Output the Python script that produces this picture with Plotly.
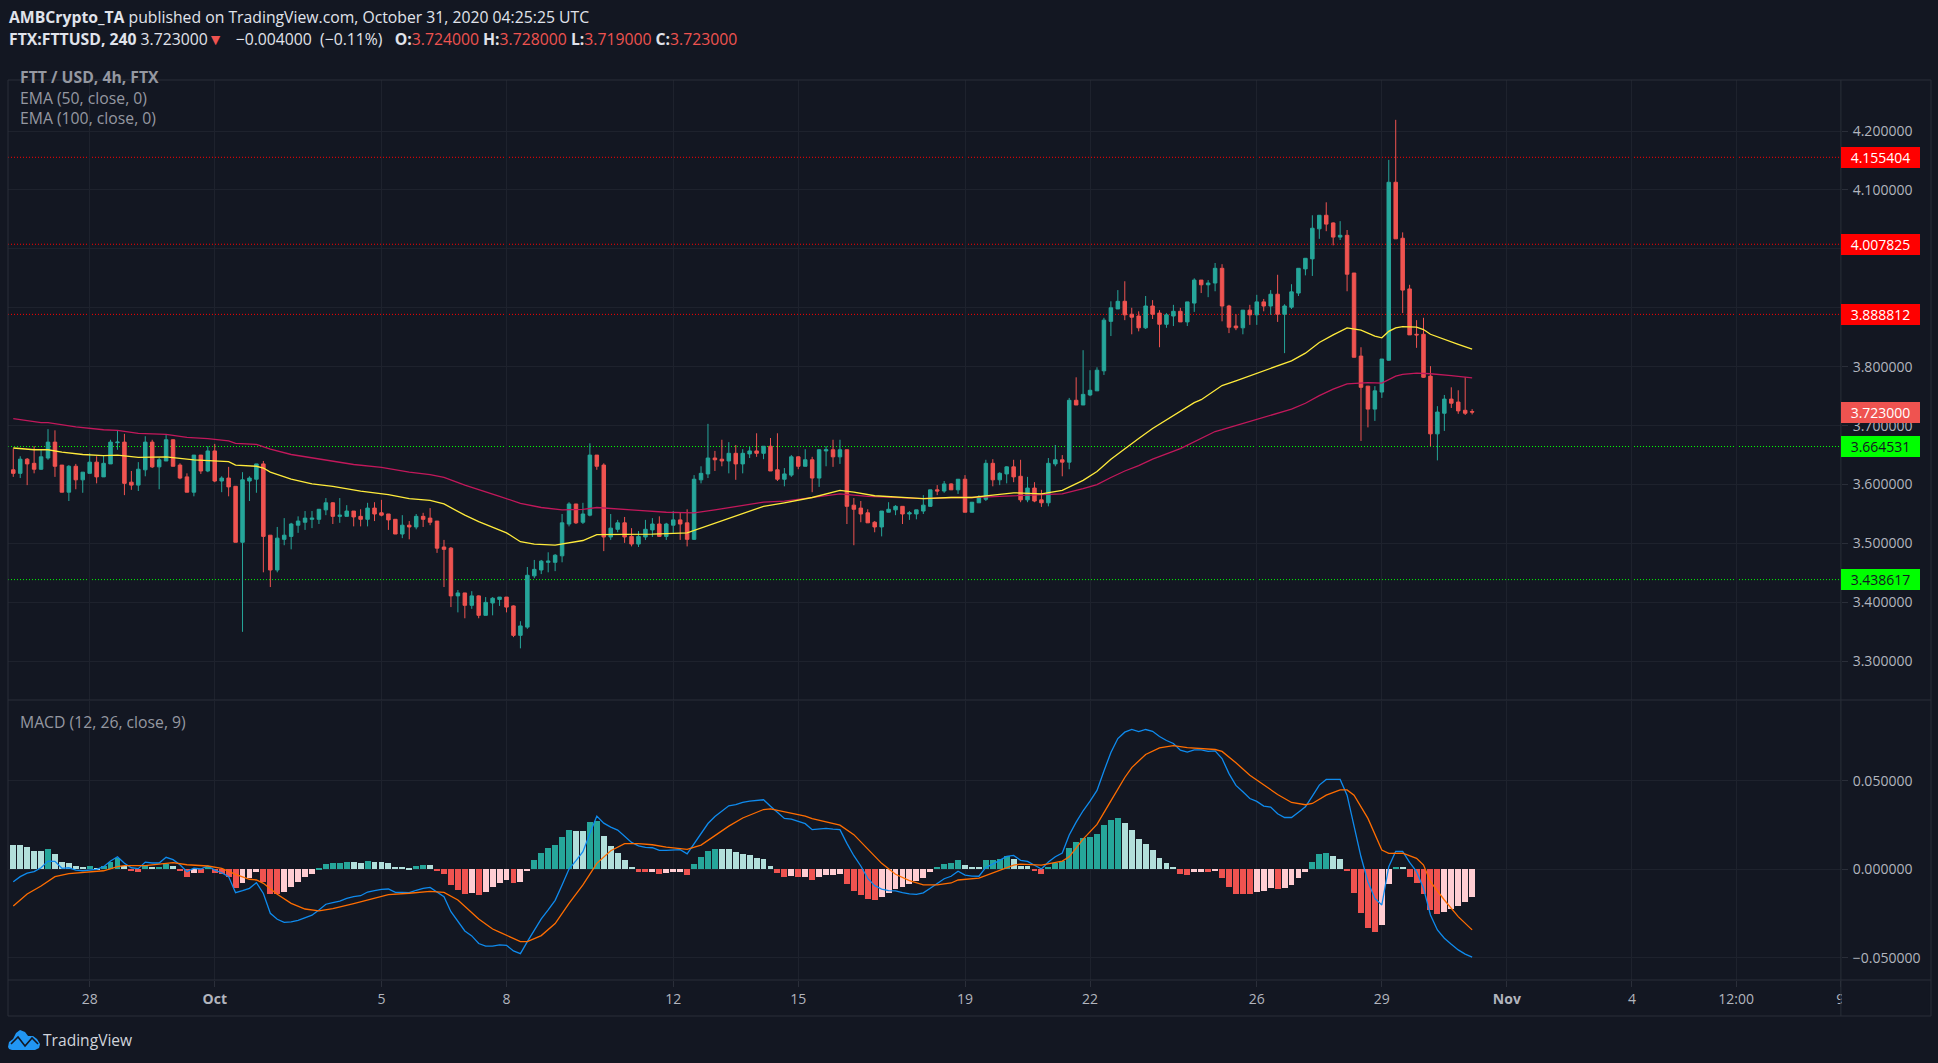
import pandas as pd
import plotly.graph_objects as go

# ---------- data ----------
bar_start = "2020-09-26 04:00"
bar_count = 211

price_open = [3.625,3.619,3.643,3.636,3.626,3.645,3.672,3.633,3.587,3.631,
3.608,3.619,3.638,3.613,3.635,3.671,3.672,3.604,3.599,3.625,
3.672,3.630,3.640,3.676,3.633,3.613,3.587,3.650,3.623,3.657,
3.606,3.611,3.597,3.502,3.606,3.609,3.635,3.514,3.455,3.507,
3.512,3.531,3.536,3.541,3.541,3.557,3.569,3.546,3.546,3.555,
3.546,3.541,3.560,3.552,3.550,3.541,3.516,3.531,3.528,3.546,
3.543,3.538,3.494,3.492,3.411,3.416,3.395,3.411,3.378,3.399,
3.405,3.409,3.394,3.344,3.358,3.445,3.455,3.468,3.468,3.479,
3.533,3.567,3.536,3.548,3.650,3.633,3.511,3.524,3.535,3.512,
3.499,3.511,3.523,3.533,3.512,3.531,3.540,3.535,3.507,3.608,
3.618,3.645,3.643,3.640,3.653,3.635,3.652,3.657,3.653,3.665,
3.625,3.609,3.616,3.647,3.631,3.642,3.611,3.657,3.659,3.647,
3.659,3.565,3.560,3.552,3.536,3.528,3.553,3.557,3.563,3.550,
3.550,3.555,3.563,3.591,3.589,3.601,3.591,3.609,3.553,3.569,
3.575,3.636,3.608,3.618,3.630,3.614,3.574,3.594,3.574,3.569,
3.635,3.642,3.638,3.743,3.735,3.752,3.759,3.793,3.877,3.898,
3.911,3.889,3.886,3.866,3.903,3.891,3.872,3.886,3.894,3.876,
3.908,3.947,3.939,3.942,3.967,3.903,3.869,3.866,3.896,3.888,
3.910,3.903,3.923,3.889,3.901,3.925,3.966,3.983,4.034,4.057,
4.044,4.020,4.023,3.959,3.818,3.767,3.728,3.757,3.811,4.113,
4.018,3.932,3.855,3.855,3.784,3.686,3.721,3.745,3.740,3.726,3.724]

price_high = [3.661,3.648,3.645,3.665,3.660,3.694,3.692,3.633,3.633,3.635,
3.621,3.653,3.648,3.650,3.676,3.691,3.686,3.623,3.638,3.682,
3.676,3.645,3.684,3.677,3.636,3.619,3.650,3.650,3.665,3.669,
3.614,3.630,3.597,3.621,3.614,3.635,3.640,3.514,3.528,3.543,
3.535,3.546,3.555,3.555,3.558,3.577,3.570,3.577,3.565,3.555,
3.558,3.569,3.570,3.574,3.550,3.541,3.548,3.538,3.550,3.552,
3.560,3.538,3.506,3.494,3.421,3.416,3.419,3.412,3.409,3.409,
3.409,3.409,3.395,3.368,3.460,3.472,3.472,3.485,3.482,3.550,
3.570,3.567,3.569,3.670,3.650,3.636,3.550,3.540,3.545,3.526,
3.521,3.540,3.543,3.546,3.535,3.555,3.553,3.558,3.616,3.631,
3.703,3.657,3.676,3.672,3.667,3.660,3.664,3.687,3.665,3.679,
3.687,3.628,3.650,3.648,3.660,3.647,3.660,3.665,3.676,3.676,
3.659,3.577,3.572,3.558,3.538,3.555,3.570,3.565,3.563,3.555,
3.557,3.582,3.591,3.599,3.606,3.602,3.609,3.616,3.570,3.582,
3.642,3.643,3.621,3.631,3.642,3.642,3.613,3.604,3.591,3.645,
3.667,3.650,3.747,3.782,3.828,3.794,3.799,3.883,3.911,3.930,
3.945,3.900,3.894,3.920,3.913,3.896,3.891,3.905,3.900,3.910,
3.950,3.947,3.947,3.976,3.974,3.905,3.889,3.896,3.905,3.922,
3.915,3.930,3.956,3.906,3.940,3.967,3.984,4.057,4.057,4.079,
4.045,4.047,4.032,3.959,3.833,3.767,3.767,3.813,4.151,4.219,
4.028,3.939,3.879,3.883,3.801,3.733,3.752,3.765,3.760,3.782,3.728]

price_low = [3.613,3.611,3.599,3.619,3.625,3.642,3.613,3.587,3.572,3.592,
3.586,3.619,3.602,3.613,3.635,3.659,3.582,3.591,3.589,3.614,
3.628,3.592,3.640,3.631,3.609,3.587,3.580,3.618,3.621,3.604,
3.587,3.580,3.502,3.350,3.572,3.586,3.451,3.426,3.451,3.497,
3.490,3.518,3.523,3.526,3.533,3.548,3.533,3.535,3.546,3.529,
3.529,3.529,3.538,3.546,3.523,3.516,3.509,3.507,3.524,3.528,
3.531,3.484,3.426,3.392,3.383,3.373,3.389,3.373,3.378,3.378,
3.394,3.383,3.341,3.322,3.355,3.441,3.448,3.451,3.453,3.468,
3.529,3.533,3.533,3.546,3.625,3.487,3.506,3.519,3.501,3.495,
3.494,3.506,3.511,3.511,3.506,3.518,3.506,3.495,3.506,3.602,
3.611,3.623,3.631,3.619,3.608,3.619,3.645,3.647,3.643,3.623,
3.606,3.597,3.613,3.626,3.631,3.587,3.596,3.631,3.630,3.635,
3.533,3.497,3.536,3.535,3.519,3.512,3.553,3.548,3.533,3.540,
3.541,3.550,3.562,3.582,3.586,3.591,3.584,3.553,3.553,3.569,
3.572,3.597,3.599,3.602,3.604,3.570,3.570,3.570,3.562,3.563,
3.631,3.614,3.626,3.735,3.735,3.750,3.759,3.786,3.852,3.898,
3.879,3.855,3.860,3.864,3.881,3.833,3.866,3.869,3.876,3.869,
3.893,3.925,3.918,3.928,3.877,3.857,3.862,3.855,3.871,3.871,
3.894,3.888,3.876,3.823,3.898,3.920,3.955,3.954,4.017,4.030,
4.006,4.015,3.928,3.816,3.674,3.697,3.708,3.747,3.810,4.017,
3.891,3.854,3.832,3.781,3.665,3.641,3.691,3.730,3.720,3.718,3.719]

price_close = [3.619,3.643,3.635,3.626,3.647,3.672,3.631,3.587,3.631,3.608,
3.621,3.638,3.613,3.636,3.672,3.672,3.602,3.599,3.626,3.672,
3.630,3.642,3.676,3.631,3.611,3.587,3.650,3.623,3.657,3.606,
3.611,3.596,3.502,3.608,3.611,3.635,3.512,3.455,3.509,3.514,
3.533,3.538,3.543,3.543,3.558,3.569,3.546,3.548,3.555,3.545,
3.541,3.560,3.550,3.548,3.540,3.516,3.531,3.528,3.546,3.541,
3.536,3.492,3.490,3.411,3.416,3.395,3.411,3.378,3.400,3.407,
3.409,3.392,3.344,3.360,3.446,3.456,3.470,3.470,3.480,3.535,
3.567,3.535,3.550,3.650,3.631,3.511,3.526,3.535,3.511,3.499,
3.512,3.524,3.533,3.512,3.533,3.540,3.533,3.507,3.609,3.619,
3.645,3.642,3.640,3.653,3.635,3.653,3.657,3.653,3.665,3.623,
3.609,3.618,3.647,3.631,3.642,3.611,3.659,3.659,3.647,3.659,
3.563,3.558,3.550,3.535,3.528,3.555,3.558,3.563,3.550,3.552,
3.557,3.565,3.591,3.589,3.601,3.591,3.609,3.553,3.570,3.579,
3.636,3.608,3.619,3.630,3.613,3.574,3.594,3.572,3.569,3.636,
3.642,3.638,3.743,3.735,3.753,3.760,3.794,3.879,3.900,3.911,
3.888,3.884,3.866,3.903,3.889,3.872,3.888,3.894,3.876,3.910,
3.947,3.939,3.942,3.967,3.903,3.867,3.866,3.896,3.888,3.910,
3.903,3.923,3.889,3.903,3.927,3.967,3.984,4.035,4.057,4.042,
4.020,4.023,3.957,3.816,3.765,3.728,3.759,3.813,4.113,4.017,
3.930,3.854,3.854,3.782,3.686,3.723,3.745,3.738,3.725,3.721,3.723]

ema50_bars = [0,3,5,7,10,13,15,18,22,26,31,32,35,36,37,40,43,46,50,54,57,60,62,65,67,69,
71,73,75,78,80,82,84,87,92,97,99,103,108,111,115,119,121,124,128,131,135,138,141,
142,144,148,151,154,156,158,160,162,164,166,168,170,171,173,174,176,179,181,184,186,188,
190,192,194,196,197,198,199,200,202,203,204,206,208,210]
ema50_values = [3.662,3.659,3.659,3.655,3.651,3.649,3.650,3.646,3.647,3.642,3.639,3.633,3.631,3.628,3.621,3.609,3.601,3.597,3.589,3.583,3.576,3.573,3.567,3.548,3.537,3.527,
3.518,3.503,3.499,3.497,3.501,3.505,3.515,3.515,3.516,3.518,3.526,3.543,3.563,3.569,3.578,3.590,3.587,3.581,3.578,3.576,3.578,3.578,3.582,
3.583,3.586,3.584,3.590,3.607,3.622,3.643,3.661,3.678,3.695,3.710,3.724,3.739,3.744,3.761,3.768,3.776,3.789,3.798,3.810,3.823,3.841,
3.854,3.866,3.862,3.852,3.849,3.860,3.866,3.868,3.867,3.863,3.855,3.846,3.838,3.830]

ema100_bars = [0,4,5,9,13,15,18,22,25,28,31,32,35,37,40,43,49,53,57,60,62,65,68,70,
73,76,79,82,84,87,90,94,98,101,105,108,111,115,119,123,127,131,135,138,142,
145,151,154,156,158,160,162,164,168,171,173,174,178,181,184,186,188,190,192,195,197,199,200,202,204,207,210]
ema100_values = [3.712,3.705,3.705,3.698,3.693,3.692,3.687,3.685,3.680,3.678,3.674,3.670,3.668,3.660,3.651,3.645,3.634,3.629,3.621,3.617,3.612,3.599,3.588,3.580,
3.568,3.561,3.557,3.558,3.561,3.559,3.556,3.553,3.552,3.557,3.565,3.570,3.572,3.578,3.584,3.580,3.578,3.576,3.578,3.578,3.580,
3.581,3.584,3.593,3.600,3.612,3.623,3.632,3.643,3.661,3.678,3.690,3.693,3.707,3.718,3.728,3.738,3.751,3.762,3.771,3.773,3.772,3.784,3.787,3.789,3.788,3.785,3.781]

macd_line = [-.0070,-.0041,-.0021,-.0013,.0009,.0047,.0045,.0006,.0009,-.0004,
-.0008,-.0002,0,.0015,.0047,.0071,.0034,.0009,.0004,.0041,
.0036,.0036,.0068,.0055,.0026,-.0013,.0006,.0002,.0019,-.0004,
-.0019,-.0041,-.0132,-.0120,-.0107,-.0075,-.0136,-.0248,-.0282,-.0299,
-.0297,-.0288,-.0273,-.0259,-.0229,-.0197,-.0188,-.0179,-.0164,-.0154,
-.0149,-.0128,-.0120,-.0113,-.0111,-.0130,-.0130,-.0132,-.0118,-.0107,
-.0102,-.0130,-.0154,-.0239,-.0295,-.0348,-.0376,-.0419,-.0434,-.0434,
-.0427,-.0429,-.0461,-.0476,-.0408,-.0346,-.0280,-.0229,-.0175,-.0088,
.0002,.0049,.0100,.0203,.0301,.0261,.0239,.0222,.0186,.0152,
.0133,.0124,.0122,.0107,.0107,.0111,.0111,.0088,.0147,.0203,
.0259,.0299,.0329,.0359,.0365,.0378,.0385,.0387,.0393,.0357,
.0320,.0288,.0284,.0269,.0258,.0224,.0227,.0231,.0227,.0224,
.0147,.0077,.0019,-.0051,-.0092,-.0111,-.0120,-.0122,-.0132,-.0139,
-.0141,-.0133,-.0107,-.0081,-.0053,-.0039,-.0011,-.0032,-.0038,-.0039,
.0011,.0030,.0051,.0073,.0079,.0051,.0045,.0023,.0002,.0041,
.0071,.0092,.0194,.0267,.0331,.0385,.0446,.0556,.0660,.0739,
.0775,.0790,.0778,.0790,.0780,.0750,.0728,.0711,.0673,.0662,
.0675,.0675,.0666,.0669,.0626,.0541,.0474,.0438,.0400,.0384,
.0357,.0352,.0314,.0293,.0293,.0323,.0353,.0414,.0476,.0508,
.0509,.0508,.0419,.0250,.0071,-.0070,-.0164,-.0201,.0015,.0102,
.0102,.0039,-.0013,-.0107,-.0258,-.0342,-.0389,-.0423,-.0455,-.0479,-.0496]

signal_bars = [0,2,4,6,8,10,13,15,16,19,22,23,25,28,30,32,34,35,36,38,40,42,44,46,49,52,54,57,60,62,64,67,69,70,
72,73,74,76,78,80,82,84,86,88,90,92,94,96,97,99,101,103,105,107,108,109,111,114,115,117,119,121,123,125,127,129,131,133,135,136,139,141,142,
144,145,148,151,152,154,156,158,160,161,163,165,167,169,171,173,174,176,178,180,182,184,186,187,189,191,192,193,195,197,198,200,202,203,204,206,208,210]
signal_values = [-.0207,-.0139,-.0094,-.0041,-.0024,-.0017,-.0008,.0015,.0021,.0021,.0032,.0038,.0026,.0019,.0006,-.0028,-.0056,-.0060,-.0079,-.0141,-.0192,-.0224,-.0235,-.0222,-.0194,-.0164,-.0143,-.0135,-.0124,-.0130,-.0173,-.0280,-.0337,-.0355,
-.0389,-.0408,-.0408,-.0374,-.0306,-.0192,-.0088,.0034,.0105,.0145,.0145,.0139,.0126,.0120,.0113,.0137,.0190,.0244,.0290,.0325,.0338,.0342,.0327,.0301,.0286,.0269,.0250,.0196,.0115,.0034,-.0028,-.0064,-.0088,-.0088,-.0077,-.0060,-.0049,-.0019,-.0006,
.0024,.0030,.0024,.0047,.0071,.0171,.0254,.0387,.0519,.0575,.0649,.0686,.0699,.0688,.0682,.0677,.0666,.0602,.0532,.0476,.0423,.0378,.0365,.0372,.0419,.0449,.0449,.0419,.0288,.0109,.0090,.0092,.0062,.0024,-.0070,-.0173,-.0267,-.0342]

macd_hist = [.0137,.0137,.0126,.0103,.0103,.0115,.0087,.0041,.0036,.0019,
.0013,.0019,.0008,.0019,.0041,.0064,.0019,-.0009,-.0015,.0019,
.0013,.0013,.0030,.0019,-.0009,-.0043,-.0021,-.0021,.0013,-.0021,
-.0026,-.0043,-.0105,-.0077,-.0049,-.0015,-.0071,-.0139,-.0139,-.0128,
-.0100,-.0071,-.0043,-.0026,.0008,.0030,.0036,.0036,.0041,.0041,
.0036,.0047,.0041,.0041,.0036,.0013,.0013,.0008,.0019,.0024,
.0024,-.0009,-.0026,-.0088,-.0117,-.0139,-.0133,-.0145,-.0128,-.0100,
-.0077,-.0060,-.0077,-.0071,-.0004,.0053,.0092,.0120,.0137,.0182,
.0222,.0216,.0216,.0267,.0273,.0188,.0132,.0092,.0053,.0013,
-.0015,-.0015,-.0015,-.0026,-.0021,-.0015,-.0015,-.0032,.0030,.0070,
.0103,.0115,.0115,.0115,.0098,.0087,.0081,.0064,.0058,.0019,
-.0021,-.0043,-.0038,-.0043,-.0043,-.0060,-.0043,-.0032,-.0032,-.0026,
-.0083,-.0122,-.0145,-.0167,-.0173,-.0156,-.0133,-.0111,-.0100,-.0083,
-.0066,-.0049,-.0015,.0013,.0030,.0036,.0053,.0024,.0013,.0013,
.0053,.0053,.0058,.0075,.0058,.0019,.0019,-.0009,-.0026,.0013,
.0036,.0047,.0120,.0154,.0177,.0182,.0199,.0250,.0278,.0290,
.0261,.0222,.0171,.0143,.0109,.0064,.0036,.0013,-.0026,-.0032,
-.0015,-.0015,-.0015,-.0009,-.0049,-.0100,-.0139,-.0139,-.0139,-.0128,
-.0122,-.0105,-.0111,-.0105,-.0088,-.0049,-.0015,.0041,.0087,.0092,
.0075,.0058,-.0004,-.0133,-.0246,-.0331,-.0353,-.0314,-.0083,.0013,
.0013,-.0043,-.0077,-.0139,-.0229,-.0252,-.0241,-.0224,-.0207,-.0184,-.0156]

hist_state = ("tttttTtttt" "tTtTTTtRRT" "tTTtRRrRTR" "RRRrrrRRRr" "rrrrTTTTTt"
              "tTttttttTT" "tRRRRRrRrr" "rrRrrTTTTT" "TttTTttttt" "RRrRrrrRTT"
              "TTtttttttt" "RRrRrRrrrr" "RRRRRrrrrr" "rrrTTTTttt" "TTTTtttRRT"
              "TTTTTTTTTT" "ttttttttRR" "rrRrRRRRRr" "rrRrrrrTTT" "ttRRRRRrrT"
              "tRRRRRrrrrr")

level_values = [4.155404, 4.007825, 3.888812, 3.664531, 3.438617]
level_colors = ["#ff0000", "#ff0000", "#ff0000", "#00ff00", "#00ff00"]
level_text_colors = ["#ffffff", "#ffffff", "#ffffff", "#131722", "#131722"]
last_price = 3.723

price_ticks = [3.3, 3.4, 3.5, 3.6, 3.7, 3.8, 3.9, 4.0, 4.1, 4.2, 4.3]
price_tick_labels = ["3.300000", "3.400000", "3.500000", "3.600000", "3.700000", "3.800000", "",
                     "4.000000", "4.100000", "4.200000", "4.300000"]
macd_ticks = [-0.05, 0.0, 0.05]
macd_tick_labels = ["\u22120.050000", "0.000000", "0.050000"]
time_ticks = ["2020-09-28", "2020-10-01", "2020-10-05", "2020-10-08", "2020-10-12", "2020-10-15",
              "2020-10-19", "2020-10-22", "2020-10-26", "2020-10-29", "2020-11-01", "2020-11-04",
              "2020-11-06 12:00", "2020-11-09"]
time_labels = ["28", "<b>Oct</b>", "5", "8", "12", "15", "19", "22", "26", "29", "<b>Nov</b>", "4", "12:00", "9"]

# ---------- style ----------
W, H = 1938, 1063
WX = 1933                 # width that paper fractions resolve against
BG = "#131722"
GRID = "#1e222d"
FRAME = "#2a2e39"
TXT = "#b2b5be"
UP = "#26a69a"
DOWN = "#ef5350"
FONT = "Open Sans"
LABEL = 15.75
hist_colors = {"T": "#26a69a", "t": "#b2dfdb", "R": "#ef5350", "r": "#ffcdd2"}

PL, PR = 8, 1839          # plot pixel bounds
FR, FB = 1929, 1016       # outer frame
P_TOP, P_BOT = 80, 700
M_TOP, M_BOT = 701, 980


def px(x):
    return x / WX


def py(y):
    return 1 - y / H


times = pd.date_range(bar_start, periods=bar_count, freq="4h")
t_of = lambda bars: [times[b] for b in bars]

fig = go.Figure()
fig.add_trace(go.Candlestick(
    x=times, open=price_open, high=price_high, low=price_low, close=price_close,
    whiskerwidth=0, xaxis="x", yaxis="y", showlegend=False,
    increasing=dict(line=dict(color=UP, width=1), fillcolor=UP),
    decreasing=dict(line=dict(color=DOWN, width=1), fillcolor=DOWN)))
fig.add_trace(go.Scatter(x=t_of(ema100_bars), y=ema100_values, mode="lines",
                         line=dict(color="#c2185b", width=1.3), xaxis="x", yaxis="y", showlegend=False))
fig.add_trace(go.Scatter(x=t_of(ema50_bars), y=ema50_values, mode="lines",
                         line=dict(color="#ffeb3b", width=1.3), xaxis="x", yaxis="y", showlegend=False))

fig.add_trace(go.Bar(x=times, y=macd_hist, width=4 * 3600 * 1000 * 0.85,
                     marker=dict(color=[hist_colors[s] for s in hist_state], line=dict(width=0)),
                     xaxis="x2", yaxis="y2", showlegend=False))
fig.add_trace(go.Scatter(x=times, y=macd_line, mode="lines",
                         line=dict(color="#0f8bee", width=1.3), xaxis="x2", yaxis="y2", showlegend=False))
fig.add_trace(go.Scatter(x=t_of(signal_bars), y=signal_values, mode="lines",
                         line=dict(color="#ff6d00", width=1.3), xaxis="x2", yaxis="y2", showlegend=False))

x_range = ["2020-09-26 00:58", "2020-11-09 00:20"]
x_common = dict(type="date", range=x_range, tickmode="array", tickvals=time_ticks,
                showgrid=True, gridcolor=GRID, gridwidth=1, zeroline=False,
                rangeslider=dict(visible=False), showline=False,
                domain=[px(PL), px(PR)])

shapes = []
# horizontal levels
for v, c in zip(level_values, level_colors):
    shapes.append(dict(type="line", xref="x domain", yref="y", x0=0, x1=1, y0=v, y1=v,
                       line=dict(color=c, width=1, dash="1px 2px"), layer="below"))
    shapes.append(dict(type="line", xref="paper", yref="y", x0=px(PR + 1), x1=px(PR + 5), y0=v, y1=v,
                       line=dict(color="#ffffff", width=1), layer="above"))
# mask that clips the last time label at the scale edge
shapes.append(dict(type="rect", xref="paper", yref="paper", x0=px(PR + 1), x1=px(FR - 1),
                   y0=py(FB - 2), y1=py(M_BOT + 2), fillcolor=BG, line=dict(width=0), layer="above"))
# frame
for x0, y0, x1, y1 in [(PL, P_TOP, FR, P_TOP), (PL, P_BOT, FR, P_BOT), (PL, M_BOT, FR, M_BOT), (PL, FB, FR, FB),
                       (PL, P_TOP, PL, FB), (PR, P_TOP, PR, FB), (FR, P_TOP, FR, FB)]:
    shapes.append(dict(type="line", xref="paper", yref="paper", x0=px(x0), x1=px(x1), y0=py(y0), y1=py(y1),
                       line=dict(color=FRAME, width=1), layer="above"))
# logo
lx, ly = 8, 1030
def lp(a, b):
    return f"{px(lx + a):.5f},{py(ly + b):.5f}"
cloud = ("M " + lp(0, 17) + " L " + lp(1, 12) + " L " + lp(5, 9) + " L " + lp(8, 3) + " L " + lp(12, 0) + " L " + lp(17, 2)
         + " L " + lp(20, 6) + " L " + lp(25, 6) + " L " + lp(29, 9) + " L " + lp(32, 14) + " L " + lp(31, 18)
         + " L " + lp(27, 20) + " L " + lp(4, 20) + " L " + lp(1, 19) + " Z")
shapes.append(dict(type="path", xref="paper", yref="paper", path=cloud, fillcolor="#2196f3", line=dict(width=0), layer="above"))
zig = "M " + lp(3, 14) + " L " + lp(10, 7) + " L " + lp(17, 16) + " L " + lp(24, 8) + " L " + lp(30, 14)
shapes.append(dict(type="path", xref="paper", yref="paper", path=zig, line=dict(color=BG, width=1.6), layer="above"))


def note(x, y, text, size=LABEL, color=TXT, anchor="left"):
    return dict(xref="paper", yref="paper", x=px(x), y=py(y), text=text, showarrow=False,
                xanchor=anchor, yanchor="middle", align="left", borderpad=0,
                font=dict(family=FONT, size=size, color=color))


NB = "\u00a0"
annotations = [
    note(8, 17, '<b>AMBCrypto_TA</b> published on TradingView.com, October 31, 2020 04:25:25 UTC', LABEL, "#e0e3eb"),
    note(8, 39, f'<b>FTX:FTTUSD, 240</b> 3.723000<span style="color:#ef5350">\u25BC</span>{NB}{NB} \u22120.004000{NB} (\u22120.11%){NB}{NB} '
                '<b>O:</b><span style="color:#ef5350">3.724000</span> <b>H:</b><span style="color:#ef5350">3.728000</span> '
                '<b>L:</b><span style="color:#ef5350">3.719000</span> <b>C:</b><span style="color:#ef5350">3.723000</span>',
         LABEL, "#e0e3eb"),
    note(19, 77, "<b>FTT / USD, 4h, FTX</b>", LABEL, "#9598a1"),
    note(19, 98, "EMA (50, close, 0)", LABEL, "#9598a1"),
    note(19, 118, "EMA (100, close, 0)", LABEL, "#9598a1"),
    note(19, 722, "MACD (12, 26, close, 9)", LABEL, "#9598a1"),
    note(42, 1040, "TradingView", 15.6, "#d1d4dc"),
]
for v, c, tc in zip(level_values + [last_price], level_colors + [DOWN], level_text_colors + ["#ffffff"]):
    annotations.append(dict(xref="paper", yref="y", x=px(PR), y=v, text=f"{v:.6f}", showarrow=False,
                            xanchor="left", yanchor="middle", width=79, height=21, align="center",
                            bgcolor=c, borderpad=0, borderwidth=0, font=dict(family=FONT, size=14, color=tc)))

fig.update_layout(
    width=W, height=H, margin=dict(l=0, r=0, t=0, b=0), autosize=False,
    paper_bgcolor=BG, plot_bgcolor=BG, showlegend=False, boxgap=0.28,
    bargap=0, hovermode=False, dragmode=False,
    font=dict(family=FONT, size=14, color=TXT),
    xaxis=dict(**x_common, anchor="y", showticklabels=False, ticks=""),
    xaxis2=dict(**x_common, anchor="y2", matches="x", ticks="outside", ticklen=6, tickcolor=FRAME,
                ticktext=time_labels, tickfont=dict(family=FONT, size=14, color=TXT), tickangle=0),
    yaxis=dict(domain=[py(P_BOT), py(P_TOP)], range=[3.2343, 4.2866], side="right", anchor="x",
               tickmode="array", tickvals=price_ticks, ticktext=price_tick_labels, ticks="outside", ticklen=6,
               ticklabelstandoff=2, tickcolor=FRAME, gridcolor=GRID, gridwidth=1, zeroline=False, showline=False,
               tickfont=dict(family=FONT, size=14, color=TXT)),
    yaxis2=dict(domain=[py(M_BOT), py(M_TOP)], range=[-0.0625, 0.0951], side="right", anchor="x2",
                tickmode="array", tickvals=macd_ticks, ticktext=macd_tick_labels, ticks="outside", ticklen=6,
                ticklabelstandoff=2, tickcolor=FRAME, gridcolor=GRID, gridwidth=1, zeroline=False, showline=False,
                tickfont=dict(family=FONT, size=14, color=TXT)),
    shapes=shapes, annotations=annotations,
)

fig.write_html("out.html", config=dict(displayModeBar=False),
               post_script="document.body.style.margin='0';document.body.style.background='#131722';"
                           "document.documentElement.style.overflow='hidden';")
